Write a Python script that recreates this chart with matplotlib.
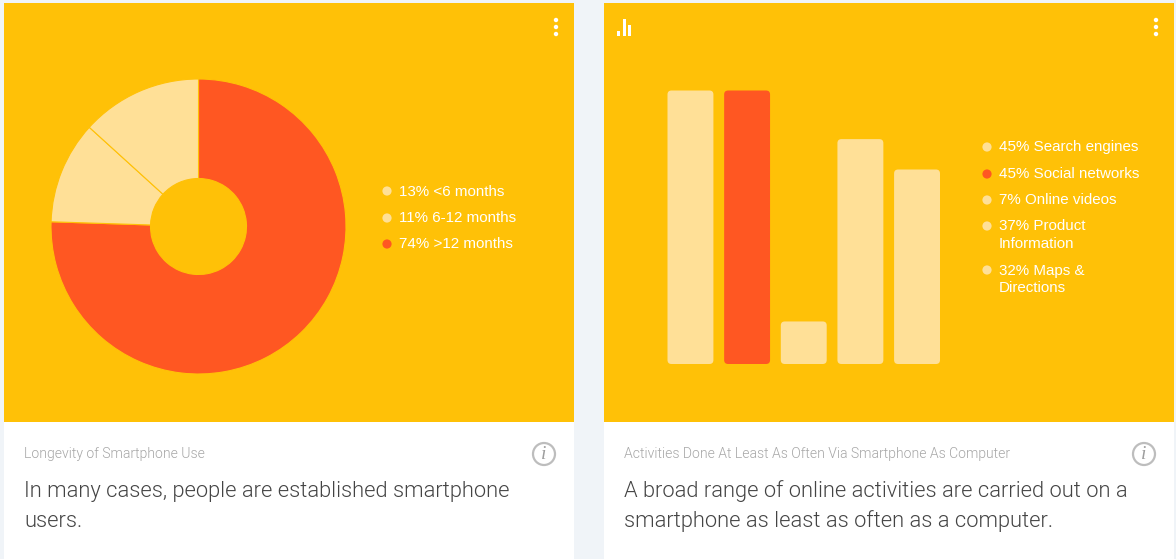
"""Two smartphone usage cards: donut and rounded bar chart."""

import matplotlib

matplotlib.use("Agg")
import matplotlib.pyplot as plt
from matplotlib.patches import Circle, FancyBboxPatch, Rectangle

W, H = 1176, 559

AMBER = "#FFC107"
PALE = "#FFE097"
ORANGE = "#FF5722"
WHITE = "#FFFFFF"
PAGE = "#F0F4F8"

# donut data
pie_labels = ["13% <6 months", "11% 6-12 months", "74% >12 months"]
pie_values = [13, 11, 74]
pie_colors = [PALE, PALE, ORANGE]

# bar data
bar_labels = ["45% Search engines", "45% Social networks", "7% Online videos",
              "37% Product\nInformation", "32% Maps &\nDirections"]
bar_values = [45, 45, 7, 37, 32]
bar_colors = [PALE, ORANGE, PALE, PALE, PALE]

icon_heights = [5, 17, 11]

left_caption = "Longevity of Smartphone Use"
left_headline = ["In many cases, people are established smartphone", "users."]
right_caption = "Activities Done At Least As Often Via Smartphone As Computer"
right_headline = ["A broad range of online activities are carried out on a",
                  "smartphone as least as often as a computer."]


def pixel_axes(fig, x0, y0, x1, y1):
    return fig.add_axes([x0 / W, 1 - y1 / H, (x1 - x0) / W, (y1 - y0) / H])


def dots(ax, x, y):
    for dy in (-7, 0, 7):
        ax.add_patch(Circle((x, y + dy), 2.2, color=WHITE, lw=0))


def info_icon(ax, x, y):
    ax.add_patch(Circle((x, y), 11, fc="none", ec="#BDBDBD", lw=1.6))
    ax.text(x, y + 0.5, "i", family="Liberation Serif", style="italic",
            fontsize=14, color="#9E9E9E", ha="center", va="center")


def legend(ax, x, rows, labels, colors):
    for y, label, color in zip(rows, labels, colors):
        ax.add_patch(Circle((x, y), 4.6, color=color, lw=0))
        ax.text(x + 11.8, y - 6.5, label, family="Liberation Sans", fontsize=10.9,
                color=WHITE, ha="left", va="top", linespacing=1.31)


fig = plt.figure(figsize=(W / 100, H / 100), dpi=100, facecolor=PAGE)

# page layer, all in pixels
bg = fig.add_axes([0, 0, 1, 1])
bg.set_xlim(0, W)
bg.set_ylim(H, 0)
bg.axis("off")

for x0 in (4, 604):
    bg.add_patch(Rectangle((x0, 3), 570, H - 3, color=WHITE, lw=0))
    bg.add_patch(Rectangle((x0, 3), 570, 418.5, color=AMBER, lw=0))
    dots(bg, x0 + 552, 27)
    info_icon(bg, x0 + 540, 454)

for x, cap, head in ((24, left_caption, left_headline), (624, right_caption, right_headline)):
    bg.text(x, 454, cap, family="Roboto", weight=300, fontsize=10.1, color="#A6A6A6",
            ha="left", va="center")
    for i, line in enumerate(head):
        bg.text(x, 497 + i * 30, line, family="Roboto", weight=300, fontsize=15.75,
                color="#444444", ha="left", va="baseline")

# small chart icon, top left of the right card
for i, h in enumerate(icon_heights):
    bg.add_patch(Rectangle((617.3 + i * 5.2, 35.5 - h), 3, h, color=WHITE, lw=0))

legend(bg, 387, [191, 218, 244], pie_labels, pie_colors)
legend(bg, 987, [147, 174, 200, 226, 270], bar_labels, bar_colors)

# donut, clockwise from 12 o'clock with the big slice first
ax_pie = pixel_axes(fig, 51, 79, 346, 374)
ax_pie.pie(pie_values[::-1], colors=pie_colors[::-1], startangle=90, counterclock=False,
           radius=1.0, wedgeprops={"width": 99.5 / 147.5, "edgecolor": AMBER, "linewidth": 0.8})
ax_pie.set_xlim(-1, 1)
ax_pie.set_ylim(-1, 1)
ax_pie.patch.set_alpha(0)

# bars, 56.75 px pitch and 46 px wide
ax_bar = pixel_axes(fig, 667.5, 90.5, 940, 364)
ax_bar.patch.set_alpha(0)
ax_bar.axis("off")
pad = 23 / 56.75
ax_bar.set_xlim(-pad, len(bar_values) - 1 + pad)
ax_bar.set_ylim(0, max(bar_values))
bars = ax_bar.bar(range(len(bar_values)), bar_values, width=46 / 56.75, color=bar_colors)
x_per_px = 1 / 56.75
y_per_px = max(bar_values) / 274
for bar in list(bars):
    ax_bar.add_patch(FancyBboxPatch(
        (bar.get_x(), bar.get_y()), bar.get_width(), bar.get_height(),
        boxstyle=f"round,pad=0,rounding_size={4 * x_per_px}",
        mutation_aspect=y_per_px / x_per_px,
        fc=bar.get_facecolor(), ec="none", clip_on=False))
    bar.set_visible(False)

fig.savefig("out.png", dpi=100, facecolor=PAGE)
plt.close(fig)
